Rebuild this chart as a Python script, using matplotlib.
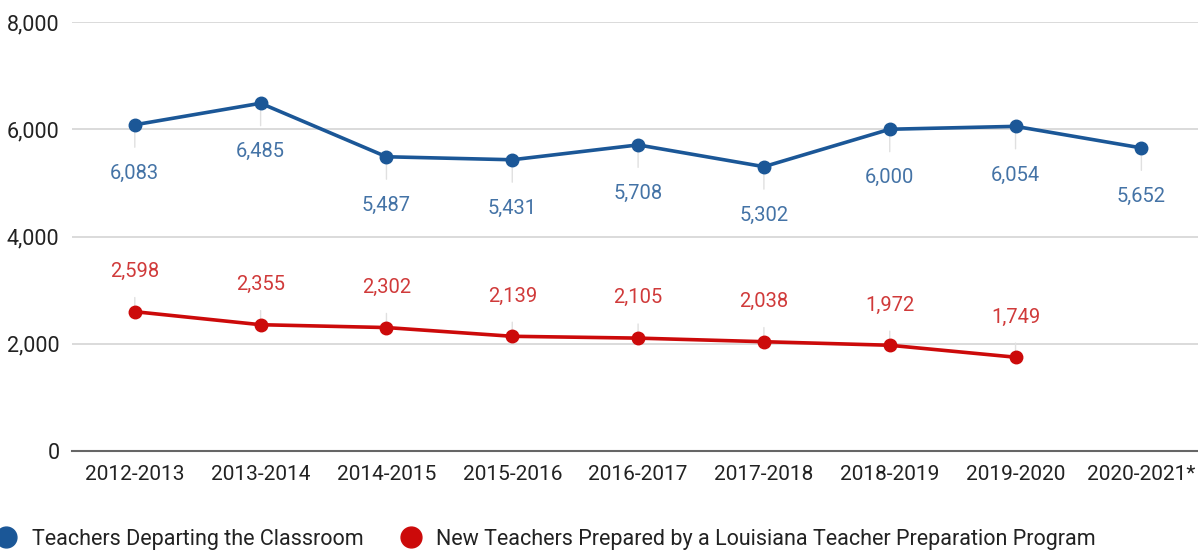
import matplotlib.pyplot as plt
from matplotlib.lines import Line2D

plt.rcParams['font.family'] = ['Roboto', 'DejaVu Sans']

years = ['2012-2013', '2013-2014', '2014-2015', '2015-2016', '2016-2017',
         '2017-2018', '2018-2019', '2019-2020', '2020-2021*']
departing = [6083, 6485, 5487, 5431, 5708, 5302, 6000, 6054, 5652]
new_teachers = [2598, 2355, 2302, 2139, 2105, 2038, 1972, 1749]

blue = '#1b5797'
blue_txt = '#4473a6'
red = '#cc0a0a'
red_txt = '#d03a3a'

fig = plt.figure(figsize=(11.98, 5.5), dpi=100)
ax = fig.add_axes([0.060, 0.18, 0.94, 0.78])

x1 = list(range(len(departing)))
x2 = list(range(len(new_teachers)))
ax.plot(x1, departing, color=blue, lw=2.6, marker='o', ms=9, zorder=3)
ax.plot(x2, new_teachers, color=red, lw=2.6, marker='o', ms=9, zorder=3)

# data labels with thin leader lines
for xi, v in zip(x1, departing):
    ax.annotate(f'{v:,}', (xi, v), xytext=(0, -35), textcoords='offset points',
                ha='center', va='center', fontsize=14.5, color=blue_txt,
                arrowprops=dict(arrowstyle='-', color='#e0e0e0', lw=1,
                                shrinkA=10, shrinkB=0), zorder=2)
for xi, v in zip(x2, new_teachers):
    ax.annotate(f'{v:,}', (xi, v), xytext=(0, 29), textcoords='offset points',
                ha='center', va='center', fontsize=14.5, color=red_txt,
                arrowprops=dict(arrowstyle='-', color='#e0e0e0', lw=1,
                                shrinkA=10, shrinkB=0), zorder=2)

ax.set_ylim(0, 8000)
ax.set_xlim(-0.5, 8.45)
ax.set_yticks([0, 2000, 4000, 6000, 8000])
ax.set_yticklabels(['0', '2,000', '4,000', '6,000', '8,000'])
ax.set_xticks(x1)
ax.set_xticklabels(years)
ax.tick_params(axis='both', length=0, labelsize=15, colors='#222222')
ax.tick_params(axis='x', pad=10)
ax.tick_params(axis='y', labelsize=15.5, pad=9)
ax.grid(axis='y', color='#d4d4d4', lw=1.2)
ax.set_axisbelow(True)
for s in ['top', 'right', 'left']:
    ax.spines[s].set_visible(False)
ax.spines['bottom'].set_color('#666666')
ax.spines['bottom'].set_linewidth(1.5)

handles = [
    Line2D([], [], color=blue, marker='o', ls='none', ms=15),
    Line2D([], [], color=red, marker='o', ls='none', ms=15),
]
fig.legend(handles, ['Teachers Departing the Classroom',
                     'New Teachers Prepared by a Louisiana Teacher Preparation Program'],
           loc='center left', bbox_to_anchor=(-0.0185, 0.02), ncol=2, frameon=False,
           fontsize=15.5, handlelength=1.0, handletextpad=0.7, columnspacing=1.7,
           borderpad=0.3, labelcolor='#222222')

fig.savefig('out.png', dpi=100)
